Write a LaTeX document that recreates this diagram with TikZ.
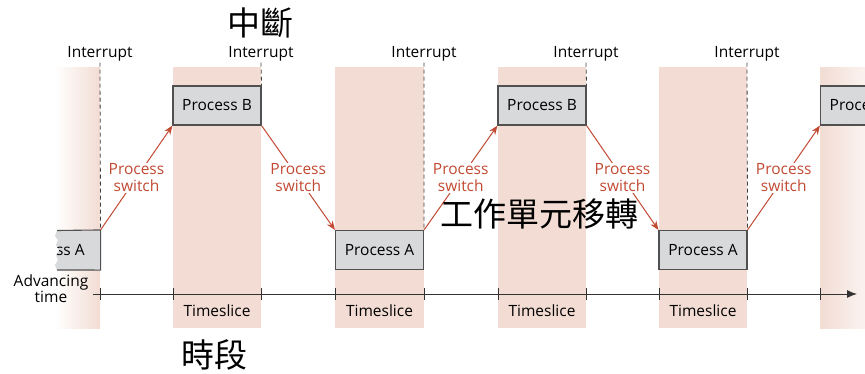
\documentclass[tikz,border=0pt]{standalone}
\usepackage{fontspec}
\setmainfont{Open Sans}
\newfontfamily\cjk{Noto Sans CJK TC}
\usetikzlibrary{arrows.meta}
\definecolor{band}{HTML}{F2DCD3}
\definecolor{swred}{HTML}{C24A33}
\definecolor{boxfill}{HTML}{D8D9DA}
\definecolor{boxline}{HTML}{505050}
\definecolor{axisc}{HTML}{333333}
\begin{document}
\begin{tikzpicture}[x=1pt,y=-1pt,
  pbox/.style={draw=boxline, line width=1.1pt, fill=boxfill, minimum width=88pt, minimum height=39pt, inner sep=0pt, font=\fontsize{15.5}{18}\selectfont},
  intr/.style={font=\fontsize{15.5}{18}\selectfont, inner sep=1pt, text=black},
  tsl/.style={font=\fontsize{15.5}{18}\selectfont, text=black},
  psw/.style={text=swred, align=center, fill=white, inner sep=1pt, font=\fontsize{15.5}{17}\selectfont},
  swarrow/.style={draw=swred, line width=1pt, -{Stealth[length=9pt,width=7pt]}},
  intline/.style={draw=black!75, line width=0.8pt, dash pattern=on 4pt off 3pt},
  cjklabel/.style={font=\cjk\fontsize{33}{35}\selectfont, inner sep=0pt}
]
\clip (0,0) rectangle (865,373);
\fill[white] (0,0) rectangle (865,373);
% bands
\shade[left color=white, right color=band] (55,67) rectangle (100,328);
\foreach \xa/\xb in {173/261, 335/424, 498/586, 659/747}
  \fill[band] (\xa,67) rectangle (\xb,328);
\shade[left color=band, right color=band!35] (820,67) rectangle (865,328);

% process boxes
\node[pbox] (b1) at (217,105.5) {Process B};
\node[pbox] (a1) at (379.5,250) {Process A};
\node[pbox] (b2) at (542,105.5) {Process B};
\node[pbox] (a2) at (703,250) {Process A};
\node[pbox] (b3) at (864.5,105.5) {Process B};

% torn left box
\node[pbox, draw=none, fill=none] (a0) at (56,250) {};
\fill[boxfill] (100,230.5) -- (57,230.5) -- (55,236) -- (58,240) -- (56,245) -- (59,250) -- (56,255) -- (58,260) -- (55,265) -- (57,270) -- (100,270) -- cycle;
\begin{scope}
  \clip (100,230.5) -- (57,230.5) -- (55,236) -- (58,240) -- (56,245) -- (59,250) -- (56,255) -- (58,260) -- (55,265) -- (57,270) -- (100,270) -- cycle;
  \node[font=\fontsize{15.5}{18}\selectfont] at ([xshift=-6pt]a0.center) {Process A};
\end{scope}
\draw[boxline, line width=1.1pt] (57,230.5) -- (a0.north east) -- (a0.south east) -- (57,270);

% interrupts
\node[intr] (i1) at (100,54) {Interrupt};
\node[intr] (i2) at (261,54) {Interrupt};
\node[intr] (i3) at (424,54) {Interrupt};
\node[intr] (i4) at (586,54) {Interrupt};
\node[intr] (i5) at (747,54) {Interrupt};
\draw[intline] (i1.south) -- (a0.north east);
\draw[intline] (i2.south) -- (b1.north east);
\draw[intline] (i3.south) -- (a1.north east);
\draw[intline] (i4.south) -- (b2.north east);
\draw[intline] (i5.south) -- (a2.north east);

% process switches
\draw[swarrow] (a0.north east) -- (b1.south west) node[psw, pos=0.5] {Process\\switch};
\draw[swarrow] (b1.south east) -- (a1.north west) node[psw, pos=0.5] {Process\\switch};
\draw[swarrow] (a1.north east) -- (b2.south west) node[psw, pos=0.5] {Process\\switch};
\draw[swarrow] (b2.south east) -- (a2.north west) node[psw, pos=0.5] {Process\\switch};
\draw[swarrow] (a2.north east) -- (b3.south west) node[psw, pos=0.5] {Process\\switch};

% time axis
\coordinate (tstart) at (93,294);
\coordinate (tend) at (857,294);
\draw[axisc, line width=1pt, -{Latex[length=10pt,width=8pt]}] (tstart) -- (tend);
\foreach \x in {100,173,261,335,424,498,586,659,747,820}
  \draw[axisc, line width=1pt] (\x,288) -- (\x,300);
\node[tsl] (t1) at (217,311) {Timeslice};
\node[tsl] (t2) at (379.5,311) {Timeslice};
\node[tsl] (t3) at (542,311) {Timeslice};
\node[tsl] (t4) at (703,311) {Timeslice};
\node[align=center, font=\fontsize{15.5}{16}\selectfont, text=black] (adv) at (51,289) {Advancing\\time};

% chinese annotations
\node[cjklabel] (zd) at (260,23) {中斷};
\node[cjklabel] (gz) at (539,214) {工作單元移轉};
\node[cjklabel] (sd) at (214,355) {時段};
\end{tikzpicture}
\end{document}
